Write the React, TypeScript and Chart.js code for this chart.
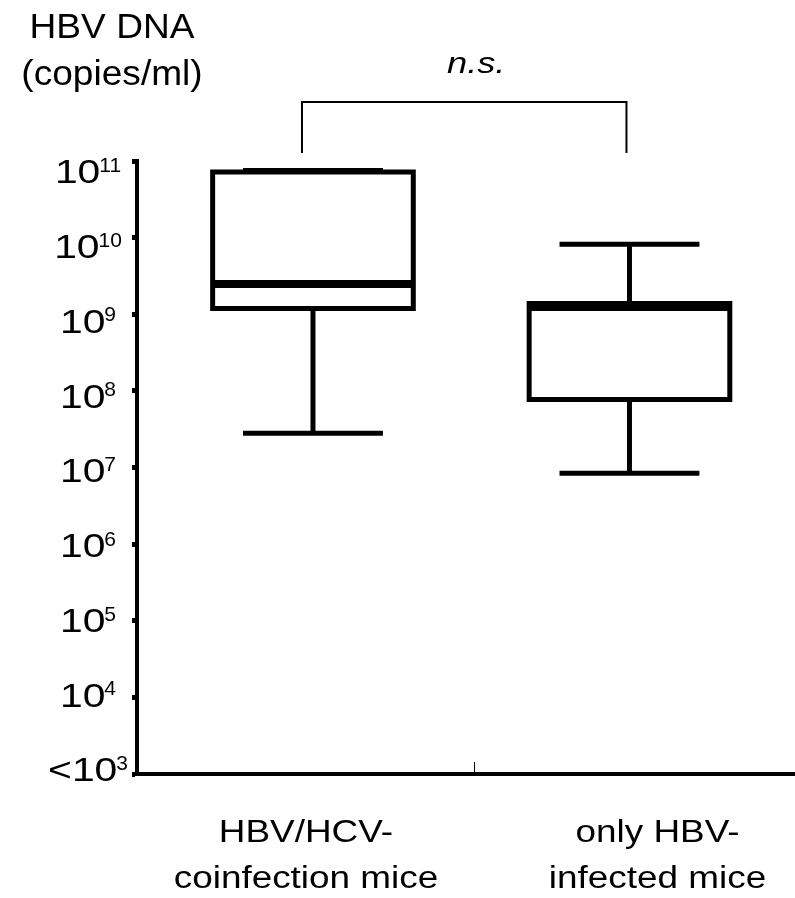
import React, { useEffect, useRef } from "react";
import { Chart, registerables } from "chart.js";

Chart.register(...registerables);

// ---- data ----
const groupLabels = [
  ["HBV/HCV-", "coinfection mice"],
  ["only HBV-", "infected mice"],
];
const groupPositions = [0, 1];
const minValues = [2.8e7, 8.4e6];
const q1Values = [1.19e9, 7.7e7];
const medianValues = [2.48e9, 1.24e9];
const q3Values = [7.2e10, 1.38e9];
const maxValues = [7.5e10, 8.2e9];
const yTickExponents = [3, 4, 5, 6, 7, 8, 9, 10, 11];
const yTickBases = ["<10", "10", "10", "10", "10", "10", "10", "10", "10"];
const yAxisTitle = ["HBV DNA", "(copies/ml)"];
const significanceLabel = "n.s.";

// ---- style / layout constants ----
const FONT = '"Liberation Sans", Arial, Helvetica, sans-serif';
const X_MIN = -0.556;
const X_MAX = 1.523;
const X_MID_TICK = 0.508;
const BOX_HALF = 0.317;
const CAP_HALF = 0.221;
const LABEL_OFFSETS = [-7, 28];
const BRACKET_INSETS = [-11, -3];

function seg(points: { x: number; y: number }[], width: number, cap: CanvasLineCap = "butt") {
  return {
    data: points,
    showLine: true,
    borderColor: "#000",
    backgroundColor: "#000",
    borderWidth: width,
    borderCapStyle: cap,
    borderJoinStyle: "miter" as CanvasLineJoin,
    pointRadius: 0,
    pointHoverRadius: 0,
    fill: false,
    tension: 0,
    clip: false as any,
  };
}

function buildDatasets() {
  const ds: any[] = [];
  groupPositions.forEach((p, i) => {
    const q1 = q1Values[i];
    const q3 = q3Values[i];
    const med = medianValues[i];
    const mn = minValues[i];
    const mx = maxValues[i];
    // whiskers
    ds.push(seg([{ x: p, y: q3 }, { x: p, y: mx }], 5));
    ds.push(seg([{ x: p, y: q1 }, { x: p, y: mn }], 5));
    ds.push(seg([{ x: p - CAP_HALF, y: mx }, { x: p + CAP_HALF, y: mx }], 5));
    ds.push(seg([{ x: p - CAP_HALF, y: mn }, { x: p + CAP_HALF, y: mn }], 5));
    // box
    ds.push(
      seg(
        [
          { x: p - BOX_HALF, y: q1 },
          { x: p + BOX_HALF, y: q1 },
          { x: p + BOX_HALF, y: q3 },
          { x: p - BOX_HALF, y: q3 },
          { x: p - BOX_HALF, y: q1 },
        ],
        5,
        "square"
      )
    );
    // median
    ds.push(seg([{ x: p - BOX_HALF, y: med }, { x: p + BOX_HALF, y: med }], 8));
  });
  return ds;
}

function drawScaled(
  ctx: CanvasRenderingContext2D,
  text: string,
  x: number,
  baseline: number,
  font: string,
  sx: number,
  align: CanvasTextAlign = "center"
) {
  ctx.save();
  ctx.font = font;
  ctx.textAlign = align;
  ctx.textBaseline = "alphabetic";
  ctx.fillStyle = "#000";
  ctx.translate(x, baseline);
  ctx.scale(sx, 1);
  ctx.fillText(text, 0, 0);
  ctx.restore();
}

const annotatePlugin = {
  id: "annotate",
  afterDraw(chart: any) {
    const { ctx, chartArea } = chart;
    const xs = chart.scales.x;
    const ys = chart.scales.y;
    const { left, top, bottom } = chartArea;

    // y tick labels with superscripts
    const mainFont = `34px ${FONT}`;
    const supFont = `21px ${FONT}`;
    const mainSx = 1.2;
    ys.ticks.forEach((t: any) => {
      const e = Math.round(Math.log10(t.value));
      const k = yTickExponents.indexOf(e);
      if (k < 0) return;
      const py = ys.getPixelForValue(t.value);
      const cy = top + 10 + (py - top) * 0.976;
      const base = cy + 12.2;
      ctx.save();
      ctx.font = mainFont;
      const mw = ctx.measureText(yTickBases[k]).width * mainSx;
      ctx.font = supFont;
      const sw = ctx.measureText(String(e)).width;
      ctx.restore();
      const total = mw + sw - 1;
      const start = left - 49 - total / 2;
      drawScaled(ctx, yTickBases[k], start, base, mainFont, mainSx, "left");
      drawScaled(ctx, String(e), start + mw - 1, base - 11.3, supFont, 1, "left");
    });

    // axis title
    const titleFont = `35px ${FONT}`;
    drawScaled(ctx, yAxisTitle[0], left - 25, 38, titleFont, 1.06);
    drawScaled(ctx, yAxisTitle[1], left - 25, 85, titleFont, 1.06);

    // category labels
    const catFont = `31px ${FONT}`;
    groupPositions.forEach((p, i) => {
      const cx = xs.getPixelForValue(p) + LABEL_OFFSETS[i];
      drawScaled(ctx, groupLabels[i][0], cx, bottom + 68, catFont, 1.19);
      drawScaled(ctx, groupLabels[i][1], cx, bottom + 114, catFont, 1.19);
    });

    // middle x tick (pointing up)
    const mx = Math.round(xs.getPixelForValue(X_MID_TICK)) + 0.5;
    ctx.save();
    ctx.strokeStyle = "#000";
    ctx.lineWidth = 1;
    ctx.beginPath();
    ctx.moveTo(mx, bottom - 12);
    ctx.lineTo(mx, bottom);
    ctx.stroke();
    ctx.restore();

    // significance bracket
    const bx1 = xs.getPixelForValue(groupPositions[0]) + BRACKET_INSETS[0];
    const bx2 = xs.getPixelForValue(groupPositions[1]) + BRACKET_INSETS[1];
    const by = top - 59;
    const legEnd = top - 8;
    ctx.save();
    ctx.strokeStyle = "#000";
    ctx.lineWidth = 2;
    ctx.lineJoin = "miter";
    ctx.beginPath();
    ctx.moveTo(bx1, legEnd);
    ctx.lineTo(bx1, by);
    ctx.lineTo(bx2, by);
    ctx.lineTo(bx2, legEnd);
    ctx.stroke();
    ctx.restore();
    drawScaled(ctx, significanceLabel, (bx1 + bx2) / 2 + 12, top - 88, `italic 29px ${FONT}`, 1.25);
  },
};

export default function App() {
  const ref = useRef<HTMLCanvasElement>(null);
  useEffect(() => {
    document.body.style.margin = "0";
    const canvas = ref.current;
    if (!canvas) return;
    const chart = new Chart(canvas, {
      type: "scatter",
      data: { datasets: buildDatasets() },
      options: {
        responsive: false,
        animation: false,
        devicePixelRatio: 1,
        events: [],
        layout: {
          autoPadding: false,
          padding: { left: 132, right: 0, top: 161, bottom: 124 },
        },
        plugins: {
          legend: { display: false },
          tooltip: { enabled: false },
          title: { display: false },
        },
        scales: {
          x: {
            type: "linear",
            min: X_MIN,
            max: X_MAX,
            ticks: { display: false },
            grid: { display: true, drawOnChartArea: false, drawTicks: false },
            border: { display: true, color: "#000", width: 4 },
          },
          y: {
            type: "logarithmic",
            min: Math.pow(10, yTickExponents[0]),
            max: Math.pow(10, yTickExponents[yTickExponents.length - 1]),
            afterBuildTicks: (scale: any) => {
              scale.ticks = yTickExponents.map((e) => ({ value: Math.pow(10, e) }));
            },
            ticks: { display: false },
            grid: {
              display: true,
              drawOnChartArea: false,
              drawTicks: true,
              tickLength: 5,
              tickWidth: 5,
              tickColor: "#000",
            },
            border: { display: true, color: "#000", width: 4 },
          },
        },
      } as any,
      plugins: [annotatePlugin],
    });
    return () => chart.destroy();
  }, []);
  return (
    <canvas
      ref={ref}
      width={795}
      height={898}
      style={{ display: "block", width: 795, height: 898 }}
    />
  );
}
